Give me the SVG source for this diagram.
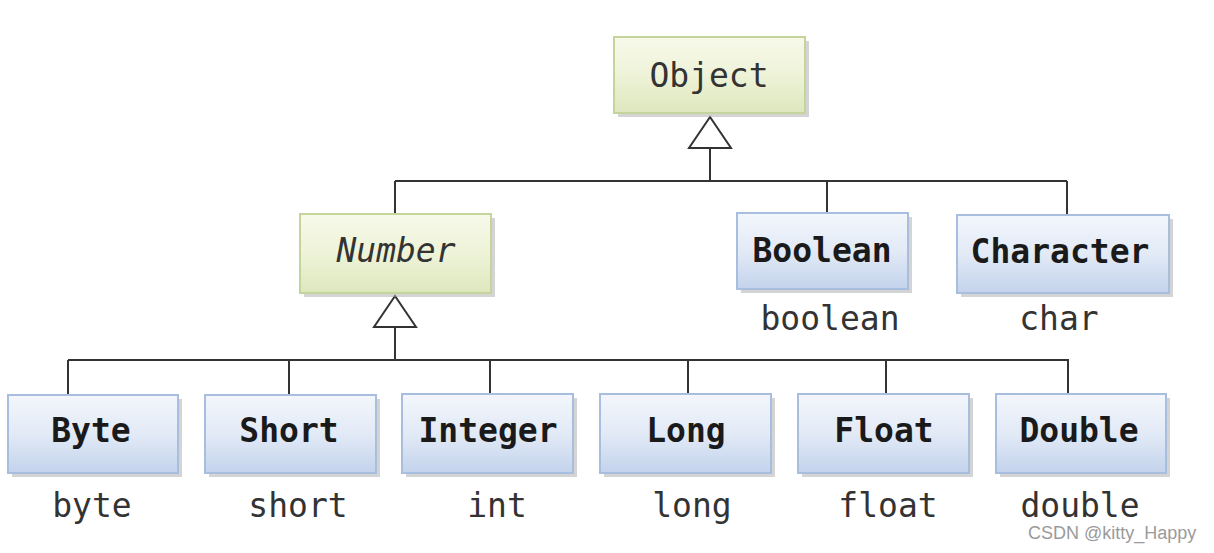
<svg xmlns="http://www.w3.org/2000/svg" width="1214" height="553" viewBox="0 0 1214 553">
<defs>
<linearGradient id="gBlue" x1="0" y1="0" x2="0" y2="1">
<stop offset="0" stop-color="#f3f6fc"/>
<stop offset="0.5" stop-color="#e2eaf6"/>
<stop offset="1" stop-color="#c3d3ec"/>
</linearGradient>
<linearGradient id="gGreen" x1="0" y1="0" x2="0" y2="1">
<stop offset="0" stop-color="#f7f9ea"/>
<stop offset="0.5" stop-color="#eef3d8"/>
<stop offset="1" stop-color="#dde7bd"/>
</linearGradient>
</defs>
<style>
.shadow{fill:#a9a9a9;opacity:0.5}
.blue{fill:url(#gBlue);stroke:#a8bedf;stroke-width:2}
.green{fill:url(#gGreen);stroke:#c4d49a;stroke-width:2}
.cls{font-family:"DejaVu Sans Mono",monospace;font-size:33px;font-weight:bold;fill:#1a1a1a;text-anchor:middle}
.top{font-family:"DejaVu Sans Mono",monospace;font-size:33px;fill:#333;text-anchor:middle}
.prim{font-family:"DejaVu Sans Mono",monospace;font-size:33px;fill:#333;text-anchor:middle}
.line{stroke:#333;stroke-width:2;fill:none}
.tri{stroke:#333;stroke-width:2;fill:#fff}
.wm{font-family:"Liberation Sans",Arial,sans-serif;font-size:18px;fill:#9a9a9a}
</style>
<rect width="1214" height="553" fill="#fff"/>
<g id="connectors">
<path class="line" d="M710,148 V181 M395,181 H1067 M395,181 V214 M827,181 V213 M1067,181 V215"/>
<polygon class="tri" points="710,117 689,148 731,148"/>
<path class="line" d="M395,327 V360 M68,360 H1069 M68,360 V395 M289,360 V395 M490,360 V394 M688,360 V394 M886,360 V394 M1068,360 V394"/>
<polygon class="tri" points="395,296 374,327 416,327"/>
</g>
<g id="object">
<rect class="shadow" x="618" y="41" width="191" height="76"/>
<rect class="green" x="614" y="37" width="191" height="76"/>
<text class="top" x="709" y="87">Object</text>
</g>
<g id="number">
<rect class="shadow" x="304" y="218" width="191" height="79"/>
<rect class="green" x="300" y="214" width="191" height="79"/>
<text class="top" x="396" y="262" font-style="italic">Number</text>
</g>
<g id="boolean">
<rect class="shadow" x="741" y="217" width="171" height="76"/>
<rect class="blue" x="737" y="213" width="171" height="76"/>
<text class="cls" x="822" y="262">Boolean</text>
<text class="prim" x="830" y="330">boolean</text>
</g>
<g id="character">
<rect class="shadow" x="961" y="219" width="212" height="78"/>
<rect class="blue" x="957" y="215" width="212" height="78"/>
<text class="cls" x="1060" y="263">Character</text>
<text class="prim" x="1059" y="330">char</text>
</g>
<g id="byte">
<rect class="shadow" x="12" y="399" width="170" height="78"/>
<rect class="blue" x="8" y="395" width="170" height="78"/>
<text class="cls" x="91" y="442">Byte</text>
<text class="prim" x="92" y="517">byte</text>
</g>
<g id="short">
<rect class="shadow" x="209" y="399" width="171" height="78"/>
<rect class="blue" x="205" y="395" width="171" height="78"/>
<text class="cls" x="289" y="442">Short</text>
<text class="prim" x="298" y="517">short</text>
</g>
<g id="integer">
<rect class="shadow" x="406" y="398" width="171" height="79"/>
<rect class="blue" x="402" y="394" width="171" height="79"/>
<text class="cls" x="488" y="442">Integer</text>
<text class="prim" x="497" y="517">int</text>
</g>
<g id="long">
<rect class="shadow" x="604" y="398" width="171" height="79"/>
<rect class="blue" x="600" y="394" width="171" height="79"/>
<text class="cls" x="686" y="442">Long</text>
<text class="prim" x="692" y="517">long</text>
</g>
<g id="float">
<rect class="shadow" x="802" y="398" width="171" height="79"/>
<rect class="blue" x="798" y="394" width="171" height="79"/>
<text class="cls" x="884" y="442">Float</text>
<text class="prim" x="888" y="517">float</text>
</g>
<g id="double">
<rect class="shadow" x="1000" y="398" width="170" height="79"/>
<rect class="blue" x="996" y="394" width="170" height="79"/>
<text class="cls" x="1079" y="442">Double</text>
<text class="prim" x="1080" y="517">double</text>
</g>
<text class="wm" x="1028" y="539">CSDN @kitty_Happy</text>
</svg>
